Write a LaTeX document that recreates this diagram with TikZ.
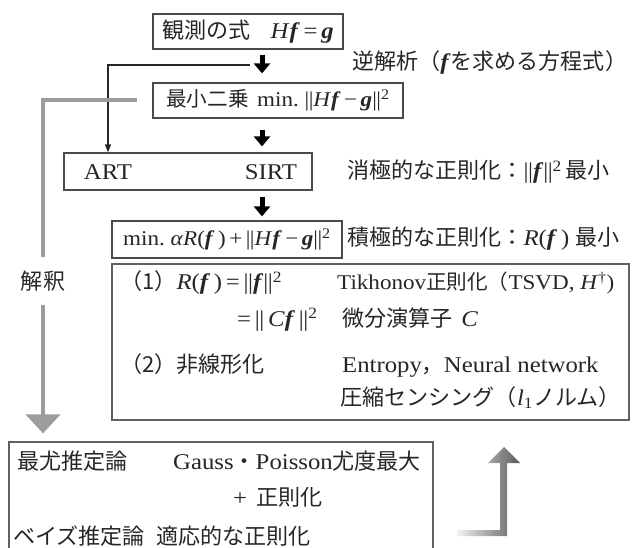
\documentclass[tikz,border=0pt]{standalone}
\usepackage{fontspec}
\setmainfont{Liberation Serif}[FakeStretch=1.1]
\newfontfamily\jp{Noto Sans CJK JP}[Scale=0.98]
\usetikzlibrary{arrows.meta}
\newcommand\J[1]{{\jp #1}}
\newcommand\bi[1]{\textbf{\textit{#1}}}
\newcommand\nrm[1]{|\kern-0.5pt|#1|\kern-0.5pt|}
\newcommand\sq{\textsuperscript{2}}
\newcommand\smallfs{\fontsize{21}{25}\selectfont}
\definecolor{boxc}{HTML}{4A4A4A}
\definecolor{boxd}{HTML}{606060}
\definecolor{grayc}{HTML}{9C9C9C}
\definecolor{grayL}{HTML}{F2F2F2}
\definecolor{grayD}{HTML}{5A5A5A}
\begin{document}
\begin{tikzpicture}[x=1pt,y=-1pt,
  every node/.style={font=\fontsize{22.5}{26}\selectfont, inner sep=0pt, text=black!85},
  box/.style={draw=boxc, line width=1.2pt},
  txt/.style={anchor=base west},
  boldarrow/.style={draw=black, line width=5pt, -{Triangle[width=16pt,length=10pt]}},
  thinarr/.style={draw=black!85, line width=1.3pt, -{Triangle[width=6pt,length=8pt]}},
  gline/.style={draw=grayc, line width=4pt},
  garrow/.style={draw=grayc, line width=4pt, -{Triangle[width=34pt,length=19pt]}}
]
\useasboundingbox (0,0) rectangle (632,548);
\clip (0,0) rectangle (632,548);
\fill[white] (0,0) rectangle (632,548);

% main boxes
\node[box, minimum width=190pt, minimum height=35pt] (b1) at (248,31.5)
  {\J{観測の式}\hspace{0.9em}\textit{H}\bi{f}\,=\,\bi{g}};
\node[box, minimum width=250pt, minimum height=35pt, font=\smallfs] (b2) at (278,100.5)
  {\J{最小二乗}\hspace{0.4em}min.\ \nrm{\textit{H}\bi{f}\,−\,\bi{g}}\sq};
\node[box, minimum width=248pt, minimum height=37pt] (b3) at (188,171.5) {};
\node (art) at (108,172) {ART};
\node (sirt) at (271,172) {SIRT};
\node[box, minimum width=230pt, minimum height=37pt, font=\smallfs] (b4) at (227,239.5)
  {min.\ \textit{α}\textit{R}(\bi{f}\,)\,+\,\nrm{\textit{H}\bi{f}\,−\,\bi{g}}\sq};
\node[box, draw=boxd, minimum width=517pt, minimum height=156pt] (b5) at (370.5,342) {};
\node[box, draw=boxd, minimum width=424pt, minimum height=140pt] (b6) at (221,512) {};

% right-hand labels
\node[txt] (l1) at (352,70) {\J{逆解析（}\bi{f}\J{を求める方程式）}};
\node[txt] (l2) at (347,179) {\J{消極的な正則化：}\nrm{\bi{f}}\sq\,\J{最小}};
\node[txt] (l3) at (347,246) {\J{積極的な正則化：}\textit{R}(\bi{f}\,)\ \J{最小}};

% contents of the regularisation box
\node[txt] (r1a) at (120,290) {\J{（1）}\textit{R}(\bi{f}\,)\,=\,\nrm{\bi{f}}\sq};
\node[txt, font=\smallfs] (r1b) at (337,290) {Tikhonov\J{正則化（}TSVD, \textit{H}\textsuperscript{†})};
\node[txt] (r2a) at (237,326) {=\,\nrm{\,\textit{C}\bi{f}\,}\sq};
\node[txt] (r2b) at (342,326) {\J{微分演算子}\hspace{0.4em}\textit{C}};
\node[txt] (r3a) at (120,372) {\J{（2）非線形化}};
\node[txt] (r3b) at (342,372) {Entropy\J{，}Neural network};
\node[anchor=base east] (r4) at (621,405) {\J{圧縮センシング（}\textit{l}\textsubscript{1}\J{ノルム）}};

% contents of the bottom box
\node[txt] (s1a) at (17,469) {\J{最尤推定論}};
\node[txt] (s1b) at (173,469) {Gauss\J{・}Poisson\J{尤度最大}};
\node[txt] (s2) at (233,505) {+\hspace{0.4em}\J{正則化}};
\node[txt] (s3a) at (13,544) {\J{ベイズ推定論}};
\node[txt] (s3b) at (156,544) {\J{適応的な正則化}};

% bold flow arrows
\coordinate (ax) at (262,0);
\draw[boldarrow, shorten <=5pt, shorten >=9pt] (b1.south -| ax) -- (b2.north -| ax);
\draw[boldarrow, shorten <=11pt, shorten >=6pt] (b2.south -| ax) -- (b3.north -| ax);
\draw[boldarrow, shorten <=6pt, shorten >=4pt] (b3.south -| ax) -- (b4.north -| ax);

% thin branch to ART
\coordinate (split) at (250,65);
\draw[thinarr] (split) -| (art |- b3.north);

% grey interpretation arrow
\node[minimum height=40pt] (interp) at (43,281) {\J{解釈}};
\draw[gline, shorten <=15pt, shorten >=4pt] (b2.west) -| (interp.north);
\draw[garrow, shorten <=4pt, shorten >=8pt] (interp.south) -- (interp.south |- b6.north);

% shaded return arrow
\shade[left color=grayL, right color=grayD]
  (457,530) -- (500,530) -- (500,463) -- (488,463) -- (504,447) -- (520,463)
  -- (507,463) -- (507,536) -- (457,536) -- cycle;
\end{tikzpicture}
\end{document}
